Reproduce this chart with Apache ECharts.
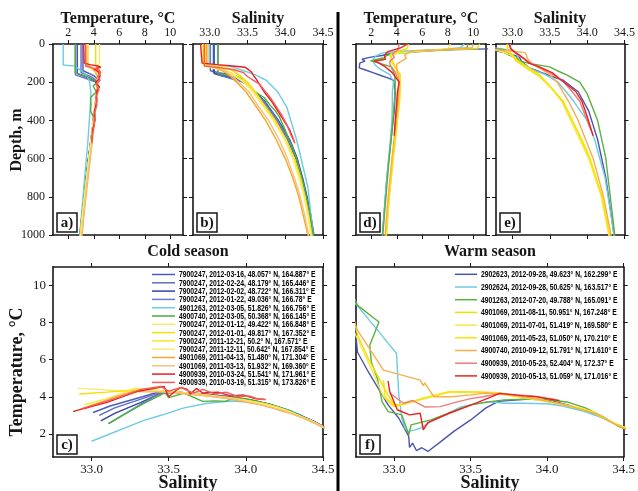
<!DOCTYPE html>
<html>
<head>
<meta charset="utf-8">
<script src="https://cdn.jsdelivr.net/npm/echarts@6/dist/echarts.min.js"></script>
<style>
  html, body { margin: 0; padding: 0; background: #fff; }
  #chart { width: 638px; height: 491px; }
</style>
</head>
<body>
<div id="chart"></div>
<script>
// ---------------------------------------------------------------
// Argo float profiles, one array per profile.
// Each row: [depth (m), temperature (°C), salinity]
// ---------------------------------------------------------------

// Cold season
const p7900247_20120316 = [[0,3.15,33.01],[140,3.15,33.01],[150,3.5,33.12],[165,4.0,33.33],[185,4.3,33.45],[210,4.28,33.5],[250,4.22,33.6],[300,4.16,33.72],[400,4.0,33.9],[500,3.8,34.05],[600,3.6,34.15],[700,3.42,34.22],[800,3.25,34.28],[900,3.08,34.33],[1000,2.93,34.37],[1200,2.7,34.43],[1500,2.48,34.48],[2000,2.25,34.53]];
const p7900247_20120224 = [[0,3.0,33.05],[150,3.0,33.05],[160,3.4,33.15],[175,3.9,33.33],[195,4.25,33.45],[220,4.25,33.53],[250,4.2,33.59],[300,4.15,33.7],[400,3.98,33.88],[500,3.78,34.03],[600,3.58,34.14],[700,3.4,34.21],[800,3.24,34.27],[900,3.07,34.32],[1000,2.92,34.36],[1200,2.7,34.42],[1500,2.47,34.48],[2000,2.24,34.53]];
const p7900247_20120202 = [[0,2.7,33.06],[155,2.7,33.06],[165,3.1,33.15],[180,3.7,33.32],[200,4.2,33.45],[230,4.25,33.55],[300,4.14,33.73],[400,3.98,33.91],[500,3.78,34.06],[600,3.58,34.16],[700,3.4,34.23],[800,3.23,34.29],[900,3.06,34.34],[1000,2.9,34.38],[1200,2.68,34.44],[1500,2.46,34.49],[2000,2.23,34.54]];
const p7900247_20120122 = [[0,2.55,33.11],[162,2.55,33.11],[172,3.0,33.2],[186,3.6,33.32],[200,4.15,33.44],[230,4.25,33.55],[300,4.15,33.72],[400,3.99,33.9],[500,3.79,34.05],[600,3.59,34.15],[700,3.41,34.22],[800,3.24,34.28],[900,3.07,34.33],[1000,2.92,34.37],[1200,2.69,34.43],[1500,2.47,34.48],[2000,2.24,34.53]];
const p4901263_20120305 = [[0,1.6,33.0],[110,1.6,33.0],[116,2.5,33.27],[125,2.7,33.33],[140,3.0,33.45],[160,3.4,33.6],[190,3.65,33.75],[250,3.77,33.9],[330,3.72,34.02],[500,3.55,34.15],[750,3.22,34.3],[1000,2.9,34.37],[1200,2.7,34.42],[1500,2.48,34.47],[2000,2.25,34.53]];
const p4900740_20120305 = [[0,2.55,33.11],[150,2.55,33.11],[160,3.0,33.2],[175,3.6,33.33],[190,4.1,33.45],[200,4.28,33.47],[220,3.95,33.5],[250,4.2,33.6],[280,3.75,33.72],[320,3.78,33.8],[350,3.75,33.87],[380,3.95,33.92],[450,3.9,34.0],[500,3.8,34.05],[600,3.6,34.15],[700,3.42,34.22],[800,3.25,34.28],[900,3.08,34.33],[1000,2.93,34.37],[1200,2.7,34.43],[1500,2.48,34.48],[2000,2.25,34.53]];
const p7900247_20120112 = [[0,4.45,32.91],[100,4.45,32.91],[110,4.4,33.05],[120,4.3,33.2],[130,4.28,33.28],[160,4.3,33.38],[200,4.3,33.5],[250,4.22,33.6],[300,4.15,33.68],[400,3.98,33.86],[500,3.8,34.0],[600,3.62,34.12],[700,3.45,34.2],[800,3.28,34.26],[900,3.1,34.31],[1000,2.95,34.35],[1200,2.72,34.42],[1500,2.5,34.47],[2000,2.25,34.53]];
const p7900247_20120101 = [[0,4.15,32.92],[110,4.15,32.92],[120,4.25,33.1],[130,4.35,33.26],[150,4.35,33.35],[200,4.3,33.5],[250,4.22,33.6],[300,4.15,33.69],[400,3.98,33.87],[500,3.8,34.01],[600,3.62,34.12],[700,3.44,34.2],[800,3.27,34.26],[900,3.1,34.31],[1000,2.95,34.35],[1200,2.72,34.42],[1500,2.5,34.47],[2000,2.25,34.53]];
const p7900247_20111221 = [[0,3.56,32.95],[115,3.56,32.95],[125,3.9,33.1],[135,4.2,33.2],[150,4.45,33.28],[200,4.32,33.48],[250,4.22,33.58],[300,4.15,33.67],[400,3.98,33.85],[500,3.8,34.0],[600,3.62,34.11],[700,3.45,34.19],[800,3.28,34.25],[900,3.12,34.3],[1000,2.97,34.34],[1200,2.73,34.41],[1500,2.5,34.47],[2000,2.25,34.53]];
const p7900247_20111211 = [[0,3.48,32.97],[120,3.48,32.97],[130,3.8,33.08],[145,4.15,33.2],[165,4.35,33.32],[200,4.3,33.45],[250,4.22,33.57],[300,4.15,33.66],[400,3.98,33.84],[500,3.8,33.99],[600,3.62,34.1],[700,3.45,34.18],[800,3.28,34.25],[900,3.12,34.3],[1000,2.98,34.34],[1200,2.74,34.41],[1500,2.51,34.47],[2000,2.26,34.53]];
const p4901069_20110413 = [[0,3.38,32.96],[105,3.38,32.96],[120,3.7,33.06],[140,4.05,33.17],[170,4.3,33.28],[250,4.25,33.48],[330,4.15,33.62],[400,4.05,33.74],[500,3.9,33.88],[600,3.72,34.0],[700,3.55,34.1],[800,3.38,34.18],[900,3.22,34.24],[1000,3.08,34.3],[1200,2.82,34.38],[1500,2.55,34.45],[2000,2.28,34.52]];
const p4901069_20110313 = [[0,3.45,32.98],[110,3.45,32.98],[125,3.8,33.1],[145,4.15,33.22],[175,4.3,33.32],[250,4.25,33.52],[330,4.15,33.65],[400,4.03,33.78],[500,3.88,33.92],[600,3.7,34.03],[700,3.52,34.12],[800,3.35,34.2],[900,3.2,34.26],[1000,3.05,34.31],[1200,2.8,34.39],[1500,2.53,34.46],[2000,2.27,34.52]];
const p4900939_20100324 = [[0,3.2,32.88],[100,3.25,32.9],[108,3.7,33.1],[115,4.3,33.3],[122,4.55,33.47],[130,4.0,33.5],[145,4.35,33.55],[165,4.5,33.58],[185,4.4,33.62],[200,4.15,33.64],[225,4.45,33.68],[250,4.2,33.72],[300,4.25,33.82],[350,4.05,33.9],[400,4.1,33.98],[450,3.9,34.06],[510,3.85,34.12]];
const p4900939_20100319 = [[0,3.35,32.93],[115,3.35,32.93],[125,3.9,33.15],[135,4.4,33.32],[150,4.55,33.45],[170,4.3,33.5],[190,4.5,33.58],[210,4.2,33.66],[240,4.4,33.72],[280,4.15,33.8],[320,4.25,33.87],[370,4.0,33.95],[420,4.05,34.02],[480,3.88,34.08],[520,3.85,34.13]];

// Warm season
const p2902623_20120928 = [[0,11.5,32.68],[25,11.4,32.7],[33,6.4,32.76],[40,5.35,32.83],[50,3.56,32.96],[60,2.84,33.03],[70,1.86,33.095],[80,1.27,33.1],[90,1.5,33.12],[100,1.1,33.145],[110,1.25,33.18],[125,1.05,33.22],[136,1.55,33.3],[150,2.13,33.39],[165,2.75,33.5],[180,3.4,33.6],[190,3.75,33.68],[250,3.88,33.88],[350,3.8,34.02],[500,3.55,34.14],[700,3.22,34.25],[1000,2.87,34.36],[1500,2.45,34.46],[2000,2.2,34.53]];
const p2902624_20120928 = [[0,9.3,32.7],[20,9.0,32.75],[28,7.5,32.9],[33,6.33,33.015],[38,4.09,33.03],[48,2.84,33.05],[65,2.3,33.07],[90,2.13,33.09],[100,2.2,33.13],[110,2.3,33.17],[130,2.66,33.24],[160,3.47,33.44],[200,3.74,33.61],[250,3.65,33.72],[300,3.65,33.82],[400,3.62,34.0],[500,3.5,34.1],[700,3.22,34.24],[1000,2.88,34.36],[1500,2.45,34.46],[2000,2.2,34.53]];
const p4901263_20120720 = [[0,9.6,32.7],[20,9.5,32.73],[25,8.93,32.76],[30,8.03,32.9],[35,6.78,32.84],[40,5.88,32.85],[45,4.99,32.89],[50,3.74,32.92],[60,3.2,32.96],[72,3.02,33.05],[88,1.95,33.095],[96,2.48,33.11],[103,2.75,33.24],[112,3.2,33.38],[120,3.56,33.5],[140,3.7,33.6],[160,3.83,33.72],[200,3.88,33.9],[260,3.85,34.0],[400,3.7,34.14],[600,3.4,34.25],[1000,2.9,34.37],[1500,2.45,34.46],[2000,2.2,34.53]];
const p4901069_20110811 = [[0,10.5,32.62],[25,10.3,32.68],[30,7.32,32.76],[35,6.06,32.83],[45,4.09,32.96],[55,3.56,33.0],[80,3.6,33.05],[120,3.9,33.2],[160,4.27,33.36],[220,4.27,33.5],[300,4.22,33.68],[400,4.05,33.8],[500,3.9,33.92],[600,3.72,34.03],[800,3.42,34.2],[1000,3.2,34.3],[1500,2.6,34.43],[2000,2.3,34.52]];
const p4901069_20110701 = [[0,8.2,32.66],[25,8.0,32.7],[30,7.14,32.76],[40,5.5,32.85],[50,4.0,32.93],[60,3.5,32.99],[90,3.55,33.05],[130,3.95,33.22],[170,4.27,33.37],[230,4.25,33.52],[300,4.2,33.66],[400,4.03,33.78],[500,3.88,33.9],[600,3.7,34.02],[800,3.4,34.19],[1000,3.18,34.29],[1500,2.6,34.43],[2000,2.3,34.52]];
const p4901069_20110523 = [[0,4.9,32.93],[25,4.8,32.93],[40,4.0,32.94],[55,3.47,33.0],[90,3.6,33.06],[130,3.95,33.2],[170,4.27,33.36],[230,4.25,33.52],[300,4.2,33.67],[400,4.02,33.8],[500,3.88,33.93],[600,3.7,34.04],[800,3.4,34.2],[1000,3.15,34.3],[1500,2.6,34.43],[2000,2.3,34.52]];
const p4900740_20100912 = [[0,10.0,32.6],[20,9.9,32.65],[30,7.58,32.76],[35,5.44,32.93],[45,4.9,33.17],[60,4.6,33.19],[75,4.75,33.2],[90,4.36,33.23],[105,4.0,33.26],[130,4.0,33.38],[160,4.1,33.5],[200,4.2,33.6],[300,4.1,33.75],[400,3.95,33.88],[600,3.62,34.08],[800,3.32,34.22],[1000,3.08,34.32],[1500,2.5,34.45],[2000,2.25,34.52]];
const p4900939_20100523 = [[0,4.2,32.97],[30,4.1,32.98],[50,3.65,33.06],[70,3.8,33.12],[90,3.45,33.2],[110,3.47,33.3],[130,3.7,33.4],[150,3.9,33.5],[170,4.0,33.58],[200,4.18,33.69],[250,4.1,33.8],[300,4.05,33.9],[380,3.95,33.98],[450,3.85,34.05]];
const p4900939_20100513 = [[0,4.85,32.96],[20,4.3,32.97],[40,3.3,33.02],[60,3.02,33.1],[80,3.11,33.17],[90,2.22,33.19],[100,2.6,33.22],[120,3.11,33.36],[150,3.64,33.53],[200,4.18,33.69],[250,4.05,33.85],[300,4.0,33.93],[380,3.9,34.0],[480,3.8,34.08]];

// Legend labels: float, date, position
const coldNames = [
  '7900247, 2012-03-16, 48.057° N, 164.887° E',
  '7900247, 2012-02-24, 48.179° N, 165.446° E',
  '7900247, 2012-02-02, 48.722° N, 166.311° E',
  '7900247, 2012-01-22, 49.036° N, 166.78° E',
  '4901263, 2012-03-05, 51.826° N, 166.756° E',
  '4900740, 2012-03-05, 50.368° N, 166.145° E',
  '7900247, 2012-01-12, 49.422° N, 166.848° E',
  '7900247, 2012-01-01, 49.817° N, 167.352° E',
  '7900247, 2011-12-21, 50.2° N, 167.571° E',
  '7900247, 2011-12-11, 50.642° N, 167.854° E',
  '4901069, 2011-04-13, 51.480° N, 171.304° E',
  '4901069, 2011-03-13, 51.932° N, 169.360° E',
  '4900939, 2010-03-24, 51.541° N, 171.961° E',
  '4900939, 2010-03-19, 51.315° N, 173.826° E'
];
const warmNames = [
  '2902623, 2012-09-28, 49.623° N, 162.299° E',
  '2902624, 2012-09-28, 50.625° N, 163.517° E',
  '4901263, 2012-07-20, 49.788° N, 165.091° E',
  '4901069, 2011-08-11, 50.951° N, 167.248° E',
  '4901069, 2011-07-01, 51.419° N, 169.580° E',
  '4901069, 2011-05-23, 51.050° N, 170.210° E',
  '4900740, 2010-09-12, 51.791° N, 171.610° E',
  '4900939, 2010-05-23, 52.404° N, 172.37° E',
  '4900939, 2010-05-13, 51.059° N, 171.016° E'
];

const coldProfiles = [p7900247_20120316, p7900247_20120224, p7900247_20120202, p7900247_20120122,
  p4901263_20120305, p4900740_20120305, p7900247_20120112, p7900247_20120101, p7900247_20111221,
  p7900247_20111211, p4901069_20110413, p4901069_20110313, p4900939_20100324, p4900939_20100319];
const warmProfiles = [p2902623_20120928, p2902624_20120928, p4901263_20120720, p4901069_20110811,
  p4901069_20110701, p4901069_20110523, p4900740_20100912, p4900939_20100523, p4900939_20100513];

// Tick labels
const tempTicks = [2, 4, 6, 8, 10];
const salTicks = [33.0, 33.5, 34.0, 34.5];
const depthTicks = [0, 200, 400, 600, 800, 1000];

// Line colours
const coldColors = ['#4a5cb8', '#5d6cc6', '#2f44a6', '#6b79ca', '#6dcbe3', '#4cae3c', '#f3ea6e',
  '#f4df00', '#ffe52a', '#f8ee7a', '#f8a52a', '#f7c07a', '#ee1b1b', '#f25c5c'];
const warmColors = ['#4a55b0', '#6dcbe3', '#5cb040', '#f2df00', '#f5e84e', '#f9e300', '#f8ae4e',
  '#f07a7a', '#ee1f1f'];

const SERIF = "'Liberation Serif', 'DejaVu Serif', serif";
const SANS = "'Liberation Sans', Arial, sans-serif";
const INK = '#161616';

// Panels: a, b, c (cold) and d, e, f (warm)
const panels = [
  { id: 'a)', kind: 'TZ', box: { left: 53,  top: 44,  width: 130, height: 191 }, yLabels: true },
  { id: 'b)', kind: 'SZ', box: { left: 193, top: 44,  width: 130, height: 191 }, yLabels: false },
  { id: 'c)', kind: 'TS', box: { left: 53,  top: 267, width: 270, height: 190 }, yLabels: true },
  { id: 'd)', kind: 'TZ', box: { left: 356, top: 44,  width: 130, height: 191 }, yLabels: false },
  { id: 'e)', kind: 'SZ', box: { left: 496, top: 44,  width: 129, height: 191 }, yLabels: false },
  { id: 'f)', kind: 'TS', box: { left: 356, top: 267, width: 268, height: 190 }, yLabels: false }
];

function frameAxis(extra) {
  return Object.assign({
    type: 'value',
    axisLine: { show: true, onZero: false, lineStyle: { color: INK, width: 1.6 } },
    axisTick: { show: true, inside: false, length: 4, lineStyle: { color: INK, width: 1 } },
    splitLine: { show: false },
    axisLabel: { show: false }
  }, extra);
}

function tickCfg(values) {
  return { show: true, inside: false, length: 4, customValues: values, lineStyle: { color: INK, width: 1 } };
}

function labelCfg(values, show, fmt, size, margin) {
  return { show: show, customValues: values, formatter: fmt, fontFamily: SERIF,
           fontSize: size, color: INK, margin: margin };
}

const fmtSal = v => Number(v).toFixed(1);
const fmtInt = v => String(Math.round(v));

const grid = [], xAxis = [], yAxis = [];
panels.forEach((p, i) => {
  grid.push(Object.assign({ show: false }, p.box));
  if (p.kind === 'TZ' || p.kind === 'SZ') {
    const isT = p.kind === 'TZ';
    const xr = isT ? { min: 0.8, max: 11 } : { min: 32.78, max: 34.5 };
    const xt = isT ? tempTicks : salTicks;
    const xf = isT ? fmtInt : fmtSal;
    xAxis.push(frameAxis(Object.assign({ gridIndex: i, position: 'top' }, xr, {
      axisTick: tickCfg(xt), axisLabel: labelCfg(xt, true, xf, 12, 5) })));
    xAxis.push(frameAxis(Object.assign({ gridIndex: i, position: 'bottom' }, xr, {
      axisTick: tickCfg(xt) })));
    const yr = { min: 0, max: 1000, interval: 200, inverse: true };
    yAxis.push(frameAxis(Object.assign({ gridIndex: i, position: 'left' }, yr, {
      axisTick: tickCfg(depthTicks), axisLabel: labelCfg(depthTicks, p.yLabels, fmtInt, 12, 8) })));
    yAxis.push(frameAxis(Object.assign({ gridIndex: i, position: 'right' }, yr, {
      axisTick: tickCfg(depthTicks) })));
  } else {
    const xr = { min: 32.75, max: 34.5 };
    xAxis.push(frameAxis(Object.assign({ gridIndex: i, position: 'bottom' }, xr, {
      axisTick: tickCfg(salTicks), axisLabel: labelCfg(salTicks, true, fmtSal, 13, 6) })));
    xAxis.push(frameAxis(Object.assign({ gridIndex: i, position: 'top' }, xr, {
      axisTick: tickCfg(salTicks) })));
    const yr = { min: 0.75, max: 11 };
    yAxis.push(frameAxis(Object.assign({ gridIndex: i, position: 'left' }, yr, {
      axisTick: tickCfg(tempTicks), axisLabel: labelCfg(tempTicks, p.yLabels, fmtInt, 13, 7) })));
    yAxis.push(frameAxis(Object.assign({ gridIndex: i, position: 'right' }, yr, {
      axisTick: tickCfg(tempTicks) })));
  }
});

// One line per profile in each of the three panels of its season
const series = [];
function addSeason(profiles, names, colors, gT, gS, gTS) {
  profiles.forEach((prof, k) => {
    const base = {
      type: 'line', name: names[k], symbol: 'none', showSymbol: false,
      color: colors[k], lineStyle: { width: 1.4, color: colors[k] },
      animation: false, silent: true, clip: true
    };
    series.push(Object.assign({}, base, { xAxisIndex: 2 * gT,  yAxisIndex: 2 * gT,  data: prof.map(r => [r[1], r[0]]) }));
    series.push(Object.assign({}, base, { xAxisIndex: 2 * gS,  yAxisIndex: 2 * gS,  data: prof.map(r => [r[2], r[0]]) }));
    series.push(Object.assign({}, base, { xAxisIndex: 2 * gTS, yAxisIndex: 2 * gTS, data: prof.map(r => [r[2], r[1]]) }));
  });
}
addSeason(coldProfiles, coldNames, coldColors, 0, 1, 2);
addSeason(warmProfiles, warmNames, warmColors, 3, 4, 5);

function label(text, x, y, size, rot) {
  return { type: 'text', x: x, y: y, rotation: rot || 0, z: 50,
    style: { text: text, fill: INK, align: 'center', verticalAlign: 'middle',
             font: 'bold ' + size + 'px ' + SERIF } };
}

const graphic = [
  { type: 'line', shape: { x1: 338, y1: 12, x2: 338, y2: 491 }, style: { stroke: '#000', lineWidth: 3 }, z: 50 },
  label('Temperature, °C', 118, 19, 16),
  label('Salinity', 258, 19, 16),
  label('Temperature, °C', 421, 19, 16),
  label('Salinity', 560, 19, 16),
  label('Depth, m', 17, 140, 16, Math.PI / 2),
  label('Cold season', 188, 252, 16),
  label('Warm season', 490, 252, 16),
  label('Temperature, °C', 17, 372, 18, Math.PI / 2),
  label('Salinity', 188, 483, 18),
  label('Salinity', 490, 483, 18)
];

// Compact legends: a short line sample followed by a horizontally condensed label
function addLegend(names, colors, x0, lineLen, y0, pitch) {
  names.forEach((n, k) => {
    const y = y0 + pitch * k;
    graphic.push({ type: 'line', z: 40, shape: { x1: x0, y1: y, x2: x0 + lineLen, y2: y },
      style: { stroke: colors[k], lineWidth: 1.5 } });
    graphic.push({ type: 'text', z: 41, x: x0 + lineLen + 4, y: y + 0.5, scaleX: 0.755, scaleY: 1,
      style: { text: n, fill: '#000', align: 'left', verticalAlign: 'middle', font: 'bold 9px ' + SANS } });
  });
}
addLegend(coldNames, coldColors, 152, 23, 274.5, 8.3);
addLegend(warmNames, warmColors, 455, 22, 274.3, 12.7);

panels.forEach(p => {
  const bx = p.box.left + 4, by = p.box.top + p.box.height - 22;
  graphic.push({ type: 'rect', z: 60, shape: { x: bx, y: by, width: 20, height: 19 },
    style: { fill: '#fff', stroke: INK, lineWidth: 1.5 } });
  graphic.push({ type: 'text', z: 61, x: bx + 10, y: by + 10,
    style: { text: p.id, fill: INK, align: 'center', verticalAlign: 'middle', font: 'bold 15px ' + SERIF } });
});

const chart = echarts.init(document.getElementById('chart'), null, { renderer: 'canvas' });
chart.setOption({
  backgroundColor: '#fff',
  animation: false,
  grid: grid,
  xAxis: xAxis,
  yAxis: yAxis,
  series: series,
  graphic: graphic
});
</script>
</body>
</html>
